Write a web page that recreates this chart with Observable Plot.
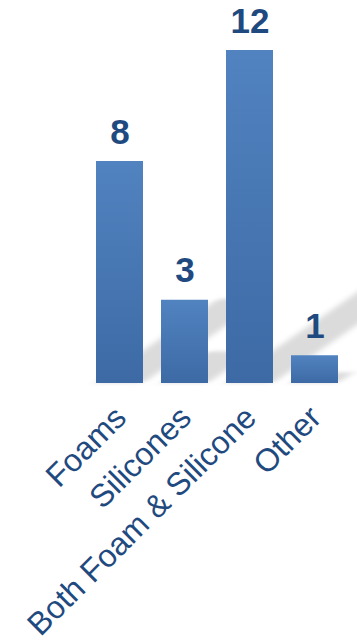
<!DOCTYPE html>
<html>
<head>
<meta charset="utf-8">
<script src="https://cdn.jsdelivr.net/npm/d3@7"></script>
<script src="https://cdn.jsdelivr.net/npm/@observablehq/plot@0.6"></script>
<style>
  html, body { margin: 0; padding: 0; background: #fff; }
  #chart svg { display: block; }
</style>
</head>
<body>
<div id="chart"></div>
<script>
const categories = ["Foams", "Silicones", "Both Foam & Silicone", "Other"];
const values = [8, 3, 12, 1];
const data = categories.map((c, i) => ({category: c, value: values[i]}));

const baselineShadow = (k, s) => (index, scales, vals, dims, ctx, next) => {
  const g = next(index, scales, vals, dims, ctx);
  const b = scales.y(0);
  g.setAttribute("transform", `translate(0,${b}) matrix(1,0,${-k},${s},0,0) translate(0,${-b})`);
  g.setAttribute("filter", "url(#shadowBlur)");
  return g;
};

const chart = Plot.plot({
  width: 357,
  height: 642,
  marginLeft: 77,
  marginRight: 0,
  marginTop: 50,
  marginBottom: 259,
  style: {fontFamily: "'Liberation Sans', Arial, sans-serif", background: "white"},
  x: {type: "band", domain: categories, padding: 0.27, axis: null},
  y: {domain: [0, 12], axis: null},
  marks: [
    Plot.barY(data, {x: "category", y: "value", fill: "#888", fillOpacity: 0.3, render: baselineShadow(0.55, 0.38)}),
    Plot.barY(data, {x: "category", y: "value", fill: "url(#barGrad)"}),
    Plot.text(data, {x: "category", y: "value", text: d => String(d.value), dy: -18, lineAnchor: "bottom",
      fontSize: 35, fontWeight: "bold", fill: "#1f4a80"}),
    Plot.text(data, {x: "category", y: 0, text: "category", rotate: -45, textAnchor: "end", lineAnchor: "top",
      dx: -8, dy: 20, fontSize: 32, fill: "#1f4a80"})
  ]
});

const defs = document.createElementNS("http://www.w3.org/2000/svg", "defs");
defs.innerHTML = `
  <linearGradient id="barGrad" x1="0" y1="0" x2="0" y2="1">
    <stop offset="0" stop-color="#5183c0"/>
    <stop offset="1" stop-color="#3d6aa5"/>
  </linearGradient>
  <filter id="shadowBlur" x="-50%" y="-50%" width="200%" height="200%">
    <feGaussianBlur stdDeviation="5"/>
  </filter>`;
chart.insertBefore(defs, chart.firstChild);
document.getElementById("chart").appendChild(chart);
</script>
</body>
</html>
